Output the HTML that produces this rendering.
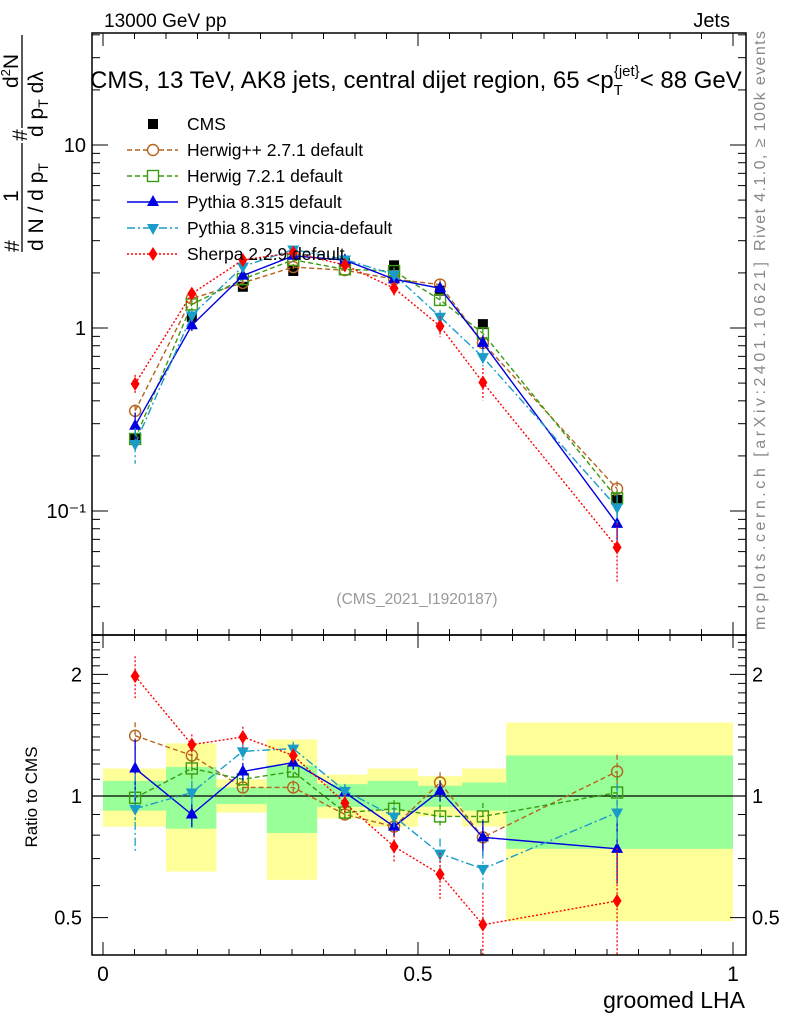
<!DOCTYPE html>
<html><head><meta charset="utf-8"><style>
html,body{margin:0;padding:0;background:#fff;}
svg{display:block;font-family:"Liberation Sans",sans-serif;}
</style></head><body>
<svg id="chart" width="786" height="1024" viewBox="0 0 786 1024" xmlns="http://www.w3.org/2000/svg">
<defs>
<clipPath id="cm"><rect x="92" y="33" width="654" height="602"/></clipPath>
<clipPath id="cr"><rect x="92" y="635" width="654" height="320"/></clipPath>
</defs>
<g id="bands" clip-path="url(#cr)"></g>
<g id="main" clip-path="url(#cm)"></g>
<g id="ratio" clip-path="url(#cr)"></g>
<g id="axes"></g>
<text x="104" y="27" font-size="19">13000 GeV pp</text>
<text x="730" y="27" font-size="20" text-anchor="end">Jets</text>
<text x="90" y="88" font-size="24">CMS, 13 TeV, AK8 jets, central dijet region, 65 &lt;p<tspan font-size="15" dy="7">T</tspan><tspan font-size="15" dy="-19" dx="-9">{jet}</tspan><tspan dy="12">&lt; 88 GeV</tspan></text>
<g font-size="21">
 <text transform="translate(19,252) rotate(-90)">#</text>
 <text transform="translate(18,202) rotate(-90)">1</text>
 <line x1="22" y1="252" x2="22" y2="143" stroke="#000" stroke-width="1.3"/>
 <text transform="translate(43,251) rotate(-90)">d N / d p<tspan font-size="14" dy="5">T</tspan></text>
 <text transform="translate(27,141) rotate(-90)">#</text>
 <text transform="translate(18,88) rotate(-90)">d<tspan font-size="13" dy="-8">2</tspan><tspan dy="8">N</tspan></text>
 <line x1="22" y1="128" x2="22" y2="35" stroke="#000" stroke-width="1.3"/>
 <text transform="translate(43,137) rotate(-90)">d p<tspan font-size="14" dy="5">T</tspan><tspan dy="-5">  dλ</tspan></text>
</g>
<text transform="translate(37,797) rotate(-90)" font-size="17" text-anchor="middle">Ratio to CMS</text>
<text x="745" y="1008" font-size="23" text-anchor="end">groomed LHA</text>
<text x="417" y="604" font-size="15.5" fill="#999" text-anchor="middle">(CMS_2021_I1920187)</text>
<text transform="translate(765,251) rotate(-90)" font-size="16" fill="#888" textLength="220" lengthAdjust="spacing">Rivet 4.1.0, ≥ 100k events</text>
<text transform="translate(765,630) rotate(-90)" font-size="16" fill="#888" textLength="368" lengthAdjust="spacing">mcplots.cern.ch [arXiv:2401.10621]</text>
<g id="legend"></g>
</svg>
<script>
const xCenters=[0.051,0.141,0.222,0.302,0.384,0.462,0.535,0.603,0.816];
const binEdges=[0,0.1,0.18,0.26,0.34,0.42,0.5,0.57,0.64,1.0];
const cmsValues=[0.25,1.15,1.68,2.05,2.3,2.2,1.6,1.05,0.115];
const ratioHerwigPP=[1.41,1.26,1.05,1.05,0.90,0.84,1.08,0.79,1.15];
const ratioHerwig7=[0.99,1.17,1.10,1.15,0.91,0.93,0.89,0.89,1.02];
const ratioPythia=[1.17,0.90,1.15,1.21,1.02,0.84,1.03,0.79,0.74];
const ratioVincia=[0.93,1.02,1.29,1.31,1.03,0.89,0.72,0.66,0.91];
const ratioSherpa=[1.98,1.34,1.40,1.26,0.96,0.75,0.64,0.48,0.55];
const relErrHerwigPP=[0.08,0.06,0.05,0.04,0.04,0.05,0.06,0.06,0.10];
const relErrHerwig7=[0.12,0.06,0.05,0.04,0.04,0.05,0.07,0.08,0.10];
const relErrPythia=[0.18,0.07,0.05,0.04,0.04,0.05,0.06,0.10,0.18];
const relErrVincia=[0.22,0.07,0.05,0.04,0.04,0.06,0.09,0.11,0.18];
const relErrSherpa=[0.12,0.06,0.06,0.04,0.05,0.09,0.13,0.20,0.35];
const bandGreenHi=[1.09,1.18,1.05,1.19,1.07,1.09,1.06,1.08,1.26];
const bandGreenLo=[0.92,0.83,0.955,0.81,0.94,0.92,0.94,0.92,0.74];
const bandYellowHi=[1.17,1.35,1.10,1.38,1.13,1.17,1.12,1.17,1.52];
const bandYellowLo=[0.84,0.65,0.91,0.62,0.88,0.84,0.89,0.84,0.49];
const mainTickLabels=["10","1","10⁻¹"];
const ratioTickLabels=["2","1","0.5"];
const xTickLabels=["0","0.5","1"];

const NS="http://www.w3.org/2000/svg";
const X=v=>103+630*v;
const YM=v=>328-183*Math.log10(v);
const YR=v=>796-404*Math.log10(v);
function mk(tag,attrs,parent){const e=document.createElementNS(NS,tag);for(const k in attrs)e.setAttribute(k,attrs[k]);parent.appendChild(e);return e;}
const gMain=document.getElementById('main'),gRatio=document.getElementById('ratio'),gBands=document.getElementById('bands'),gAxes=document.getElementById('axes'),gLeg=document.getElementById('legend');

for(let i=0;i<cmsValues.length;i++){
  let r=mk('rect',{x:X(binEdges[i]),y:YR(bandYellowHi[i]),width:X(binEdges[i+1])-X(binEdges[i]),height:YR(bandYellowLo[i])-YR(bandYellowHi[i]),fill:'#ffff99'},gBands);
  
  
  let g=mk('rect',{x:X(binEdges[i]),y:YR(bandGreenHi[i]),width:X(binEdges[i+1])-X(binEdges[i]),height:YR(bandGreenLo[i])-YR(bandGreenHi[i]),fill:'#99ff99'},gBands);
  
  
}
const unity=mk('line',{x1:92,x2:746,y1:YR(1),y2:YR(1),stroke:'#000','stroke-width':1.3},gBands);



function marker(type,x,y,color,parent){
  if(type==='sq') return mk('rect',{x:x-5,y:y-5,width:10,height:10,fill:color},parent);
  if(type==='osq') return mk('rect',{x:x-5.5,y:y-5.5,width:11,height:11,fill:'none',stroke:color,'stroke-width':1.4},parent);
  if(type==='oc') return mk('circle',{cx:x,cy:y,r:5.5,fill:'none',stroke:color,'stroke-width':1.4},parent);
  if(type==='tu') return mk('polygon',{points:`${x},${y-7} ${x-6},${y+4} ${x+6},${y+4}`,fill:color},parent);
  if(type==='td') return mk('polygon',{points:`${x},${y+7} ${x-6},${y-4} ${x+6},${y-4}`,fill:color},parent);
  if(type==='di') return mk('polygon',{points:`${x},${y-7} ${x-4.5},${y} ${x},${y+7} ${x+4.5},${y}`,fill:color},parent);
}
const series=[
 {name:'herwigpp',label:'Herwig++ 2.7.1 default',ratio:ratioHerwigPP,err:relErrHerwigPP,color:'#b5651d',dash:'5,3',m:'oc'},
 {name:'herwig7',label:'Herwig 7.2.1 default',ratio:ratioHerwig7,err:relErrHerwig7,color:'#3a9a10',dash:'5,3',m:'osq'},
 {name:'pythia',label:'Pythia 8.315 default',ratio:ratioPythia,err:relErrPythia,color:'#0000e0',dash:'',m:'tu'},
 {name:'vincia',label:'Pythia 8.315 vincia-default',ratio:ratioVincia,err:relErrVincia,color:'#1a9cc8',dash:'8,3,2,3',m:'td'},
 {name:'sherpa',label:'Sherpa 2.2.9 default',ratio:ratioSherpa,err:relErrSherpa,color:'#ff0000',dash:'2,2',m:'di'}
];
for(let i=0;i<cmsValues.length;i++){
  const m=marker('sq',X(xCenters[i]),YM(cmsValues[i]),'#000',gMain);
  
  
}
series.forEach(s=>{
  [[gMain,i=>YM(cmsValues[i]*s.ratio[i]),i=>cmsValues[i]*s.ratio[i],YM],[gRatio,i=>YR(s.ratio[i]),i=>s.ratio[i],YR]].forEach(([par,yf,vf,Yf],pi)=>{
    const g=mk('g',{},par);
    
    
    const pts=xCenters.map((x,i)=>X(x)+','+yf(i)).join(' ');
    const pl=mk('polyline',{points:pts,fill:'none',stroke:s.color,'stroke-width':1.4,'stroke-dasharray':s.dash},g);
    
    
    xCenters.forEach((x,i)=>{
      const v=vf(i),e=s.err[i];
      const eb=mk('line',{x1:X(x),x2:X(x),y1:Yf(v*(1+e)),y2:Yf(v*(1-e)),stroke:s.color,'stroke-width':1.3,'stroke-dasharray':s.dash},g);
      
      
      const mm=marker(s.m,X(x),yf(i),s.color,g);
      
      
    });
  });
});
const legY=[124,150,176,202,228,254];
let lm=marker('sq',153,legY[0],'#000',gLeg);


let lt=mk('text',{x:187,y:legY[0]+6,'font-size':17.5},gLeg);lt.textContent='CMS';


series.forEach((s,k)=>{
  const y=legY[k+1];
  const l=mk('line',{x1:127,x2:178,y1:y,y2:y,stroke:s.color,'stroke-width':1.4,'stroke-dasharray':s.dash},gLeg);
  
  
  const m=marker(s.m,153,y,s.color,gLeg);
  if(s.m==='oc'||s.m==='osq')m.setAttribute('fill','#fff');
  
  
  const t=mk('text',{x:187,y:y+6,'font-size':17.5},gLeg);t.textContent=s.label;
  
  
});
[[33,635],[635,955]].forEach(([t,b],k)=>{
  const r=mk('rect',{x:92,y:t,width:654,height:b-t,fill:'none',stroke:'#000','stroke-width':1.5},gAxes);
  
  
  for(let j=0;j<=20;j++){
    const v=j*0.05,len=(j%10===0)?13:6;
    mk('line',{x1:X(v),x2:X(v),y1:b,y2:b-len,stroke:'#000','stroke-width':1},gAxes);
    mk('line',{x1:X(v),x2:X(v),y1:t,y2:t+len,stroke:'#000','stroke-width':1},gAxes);
  }
});
for(let d=-2;d<=1;d++)for(let m=1;m<=9;m++){
  const v=m*Math.pow(10,d),y=YM(v);if(y<33||y>635)continue;
  const len=m===1?16:8;
  mk('line',{x1:92,x2:92+len,y1:y,y2:y,stroke:'#000','stroke-width':1},gAxes);
  mk('line',{x1:746,x2:746-len,y1:y,y2:y,stroke:'#000','stroke-width':1},gAxes);
}
[10,1,0.1].forEach((v,i)=>{
  const t=mk('text',{x:86,y:YM(v)+7,'font-size':20,'text-anchor':'end'},gAxes);t.textContent=mainTickLabels[i];
  
  
});
for(let v=0.4;v<=2.51;v+=0.1){
  const y=YR(v);if(y<635||y>955)continue;
  const maj=Math.abs(v-0.5)<1e-6||Math.abs(v-1)<1e-6||Math.abs(v-2)<1e-6;
  const len=maj?16:8;
  mk('line',{x1:92,x2:92+len,y1:y,y2:y,stroke:'#000','stroke-width':1},gAxes);
  mk('line',{x1:746,x2:746-len,y1:y,y2:y,stroke:'#000','stroke-width':1},gAxes);
}
[2,1,0.5].forEach((v,i)=>{
  const t=mk('text',{x:82,y:YR(v)+7,'font-size':20,'text-anchor':'end'},gAxes);t.textContent=ratioTickLabels[i];
  
  
  const t2=mk('text',{x:752,y:YR(v)+7,'font-size':20},gAxes);t2.textContent=ratioTickLabels[i];
  
  
});
[0,0.5,1].forEach((v,i)=>{
  const t=mk('text',{x:X(v),y:981,'font-size':21,'text-anchor':'middle'},gAxes);t.textContent=xTickLabels[i];
  
  
});
</script>
</body></html>
